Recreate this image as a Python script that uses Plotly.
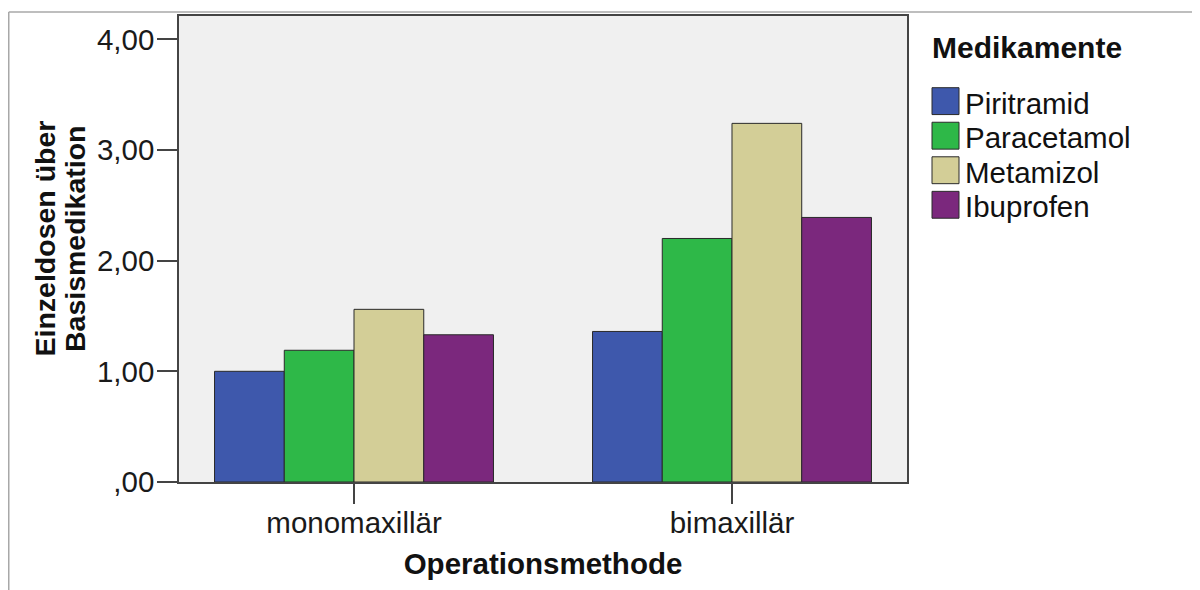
import plotly.graph_objects as go

# Data
methods = ['monomaxillär', 'bimaxillär']
drugs = ['Piritramid', 'Paracetamol', 'Metamizol', 'Ibuprofen']
piritramid = [1.00, 1.36]
paracetamol = [1.19, 2.20]
metamizol = [1.56, 3.24]
ibuprofen = [1.33, 2.39]
y_ticks = [0, 1, 2, 3, 4]
y_tick_labels = [',00', '1,00', '2,00', '3,00', '4,00']

colors = ['#3e58ac', '#2eb848', '#d3ce97', '#7b287d']
series = [piritramid, paracetamol, metamizol, ibuprofen]

W, H = 1200, 590
L, R, T, B = 171, 301, 6, 116
FONT = 'Liberation Sans, Arial, sans-serif'

# figure pixel -> paper coords (used for legend, frame and y title)
def px(x):
    return (x - L) / (W - L - R)

def py(y):
    return (H - B - y) / (H - T - B)

fig = go.Figure()

for name, vals, col in zip(drugs, series, colors):
    fig.add_trace(
        go.Bar(
            x=methods,
            y=vals,
            name=name,
            marker=dict(color=col, line=dict(color='#2a2a2a', width=1)),
            showlegend=False
        )
    )

fig.update_layout(
    width=W,
    height=H,
    margin=dict(l=L, r=R, t=T, b=B),
    paper_bgcolor='white',
    plot_bgcolor='#f0f0f0',
    barmode='group',
    bargap=0.262,
    bargroupgap=0,
    font=dict(family=FONT, size=29.5, color='#1a1a1a'),
    xaxis=dict(
        range=[-0.463, 1.463],
        showline=True,
        mirror=True,
        linecolor='#444444',
        linewidth=1.5,
        ticks='outside',
        ticklen=20,
        tickcolor='#444444',
        tickwidth=1.5,
        showgrid=False,
        tickfont=dict(size=29.5, color='#1a1a1a'),
        ticklabelstandoff=-6,
        title=dict(text='<b>Operationsmethode</b>', font=dict(size=29.5, color='#111111'), standoff=15)
    ),
    yaxis=dict(
        range=[0, 4.21],
        tickvals=y_ticks,
        ticktext=y_tick_labels,
        showline=True,
        mirror=True,
        linecolor='#444444',
        linewidth=1.5,
        ticks='outside',
        ticklen=20,
        tickcolor='#444444',
        tickwidth=1.5,
        showgrid=False,
        zeroline=False,
        tickfont=dict(size=29.5, color='#1a1a1a'),
        ticklabelstandoff=-3
    )
)

# Y axis title, two tightly spaced rotated lines
for txt, xc in [('Einzeldosen über', 37.5), ('Basismedikation', 67)]:
    fig.add_annotation(
        x=px(xc), y=py(230), xref='paper', yref='paper',
        text='<b>' + txt + '</b>', showarrow=False, textangle=-90,
        xanchor='center', yanchor='middle',
        font=dict(size=28.5, color='#111111')
    )

# Outer frame (top and left edges visible in the screenshot)
fig.add_shape(type='line', xref='paper', yref='paper',
              x0=px(0.75), x1=px(W), y0=py(2), y1=py(2),
              line=dict(color='#a8a8a8', width=1.5))
fig.add_shape(type='line', xref='paper', yref='paper',
              x0=px(0.75), x1=px(0.75), y0=py(2), y1=py(H),
              line=dict(color='#a8a8a8', width=1.5))

# Legend drawn by hand so the swatches match the large square keys
fig.add_annotation(
    x=px(922), y=py(38), xref='paper', yref='paper',
    text='<b>Medikamente</b>', showarrow=False,
    xanchor='left', yanchor='middle',
    font=dict(size=30, color='#111111')
)
row_top = 78
row_step = 34.7
for i, (name, col) in enumerate(zip(drugs, colors)):
    top = row_top + i * row_step
    fig.add_shape(type='rect', xref='paper', yref='paper',
                  x0=px(924), x1=px(951), y0=py(top), y1=py(top + 27),
                  fillcolor=col, line=dict(color='#2a2a2a', width=1))
    fig.add_annotation(
        x=px(955), y=py(top + 15.5), xref='paper', yref='paper',
        text=name, showarrow=False,
        xanchor='left', yanchor='middle',
        font=dict(size=29.5, color='#111111')
    )

fig.write_html('out.html')
